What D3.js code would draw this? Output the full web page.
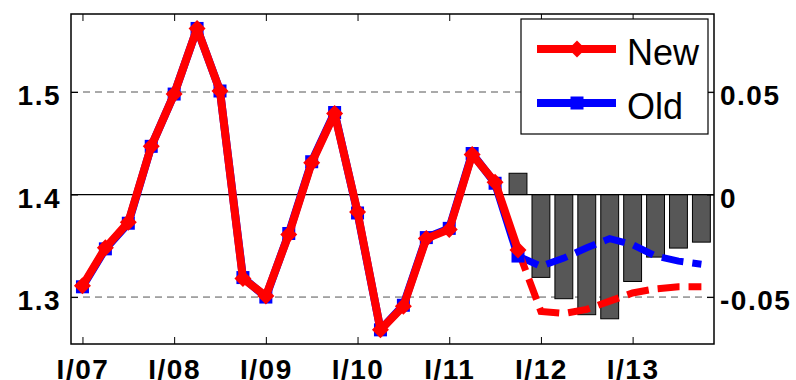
<!DOCTYPE html>
<html>
<head>
<meta charset="utf-8">
<script src="https://cdn.jsdelivr.net/npm/d3@7"></script>
<style>
    body { margin: 0; background: #fff; }
    svg { display: block; font-family: "Liberation Sans", Arial, Helvetica, sans-serif; }
    .tick-label text { font-size: 28px; font-weight: bold; letter-spacing: 1.5px; fill: #000; }
</style>
</head>
<body>
<svg id="chart" width="796" height="380"></svg>
<script>
// Quarter index 0 = I/07 ... 27 = IV/13
var yearLabels = ['I/07', 'I/08', 'I/09', 'I/10', 'I/11', 'I/12', 'I/13'];
var yearTicks = [0, 4, 8, 12, 16, 20, 24];

// History (quarters 0..19), left axis
var newHist = [1.311, 1.348, 1.373, 1.447, 1.498, 1.562, 1.501, 1.318, 1.301, 1.361,
               1.431, 1.479, 1.383, 1.268, 1.291, 1.357, 1.366, 1.439, 1.412, 1.346];
var oldHist = [1.310, 1.347, 1.372, 1.447, 1.498, 1.562, 1.501, 1.319, 1.300, 1.362,
               1.432, 1.480, 1.382, 1.268, 1.292, 1.358, 1.367, 1.440, 1.411, 1.340];

// Forecast (quarters 19..27), left axis
var newFcst = [1.346, 1.286, 1.284, 1.288, 1.296, 1.304, 1.308, 1.310, 1.310];
var oldFcst = [1.340, 1.330, 1.338, 1.348, 1.357, 1.351, 1.340, 1.335, 1.332];

// Difference bars (quarters 19..27), right axis
var diffBars = [0.0104, -0.0404, -0.0508, -0.0586, -0.0606, -0.0424, -0.0305, -0.0261, -0.0232];

var leftTicks = [1.3, 1.4, 1.5];
var rightTicks = [-0.05, 0, 0.05];

var svg = d3.select('#chart');

var plot = { left: 71, right: 714, top: 14, bottom: 344 };

var x = d3.scaleLinear().domain([-0.5, 27.55]).range([plot.left, plot.right]);
var yL = d3.scaleLinear().domain([1.2542, 1.5761]).range([plot.bottom, plot.top]);
var yR = d3.scaleLinear().domain([-0.0729, 0.0881]).range([plot.bottom, plot.top]);

var histIdx = d3.range(0, 20);
var fcstIdx = d3.range(19, 28);

// Grid lines (dashed) at 1.3 and 1.5
svg.append('g')
    .selectAll('line')
    .data([1.3, 1.5])
    .enter()
    .append('line')
    .attr('x1', plot.left).attr('x2', plot.right)
    .attr('y1', function (d) { return yL(d); })
    .attr('y2', function (d) { return yL(d); })
    .attr('stroke', '#555')
    .attr('stroke-width', 1)
    .attr('stroke-dasharray', '7,5');

// Bars on the right axis
var bw = (x(1) - x(0)) * 0.78;
svg.append('g')
    .selectAll('rect')
    .data(diffBars)
    .enter()
    .append('rect')
    .attr('x', function (d, i) { return x(fcstIdx[i]) - bw / 2; })
    .attr('y', function (d) { return yR(Math.max(d, 0)); })
    .attr('width', bw)
    .attr('height', function (d) { return Math.abs(yR(d) - yR(0)); })
    .attr('fill', '#575757')
    .attr('stroke', '#000')
    .attr('stroke-width', 1);

// Zero line
svg.append('line')
    .attr('x1', plot.left).attr('x2', plot.right)
    .attr('y1', yR(0)).attr('y2', yR(0))
    .attr('stroke', '#000')
    .attr('stroke-width', 1.3);

var line = d3.line()
    .x(function (d) { return x(d[0]); })
    .y(function (d) { return yL(d[1]); });

function pairs(idx, vals) {
    return idx.map(function (q, i) { return [q, vals[i]]; });
}

// Forecast dashed lines
svg.append('path')
    .datum(pairs(fcstIdx, oldFcst))
    .attr('d', line)
    .attr('fill', 'none')
    .attr('stroke', '#0000ff')
    .attr('stroke-width', 7)
    .attr('stroke-dasharray', '22,9');

svg.append('path')
    .datum(pairs(fcstIdx, newFcst))
    .attr('d', line)
    .attr('fill', 'none')
    .attr('stroke', '#ff0000')
    .attr('stroke-width', 7)
    .attr('stroke-dasharray', '22,9');

// Old history line with squares
svg.append('path')
    .datum(pairs(histIdx, oldHist))
    .attr('d', line)
    .attr('fill', 'none')
    .attr('stroke', '#0000ff')
    .attr('stroke-width', 8)
    .attr('stroke-linejoin', 'round');

var sq = 13;
svg.append('g')
    .selectAll('rect')
    .data(pairs(histIdx, oldHist))
    .enter()
    .append('rect')
    .attr('x', function (d) { return x(d[0]) - sq / 2; })
    .attr('y', function (d) { return yL(d[1]) - sq / 2; })
    .attr('width', sq).attr('height', sq)
    .attr('fill', '#0000ff');

// New history line with diamonds
svg.append('path')
    .datum(pairs(histIdx, newHist))
    .attr('d', line)
    .attr('fill', 'none')
    .attr('stroke', '#ff0000')
    .attr('stroke-width', 8)
    .attr('stroke-linejoin', 'round');

function diamond(cx, cy, r) {
    return 'M' + cx + ',' + (cy - r) + 'L' + (cx + r) + ',' + cy +
        'L' + cx + ',' + (cy + r) + 'L' + (cx - r) + ',' + cy + 'Z';
}

svg.append('g')
    .selectAll('path')
    .data(pairs(histIdx, newHist))
    .enter()
    .append('path')
    .attr('d', function (d) { return diamond(x(d[0]), yL(d[1]), 8.5); })
    .attr('fill', '#ff0000');

// Axes (ticks inside)
var xb = svg.append('g')
    .attr('class', 'tick-label')
    .attr('transform', 'translate(0,' + plot.bottom + ')')
    .call(d3.axisBottom(x)
        .tickValues(yearTicks)
        .tickFormat(function (d) { return yearLabels[yearTicks.indexOf(d)]; })
        .tickSize(-7)
        .tickPadding(15));

svg.append('g')
    .attr('transform', 'translate(0,' + plot.top + ')')
    .call(d3.axisTop(x).tickValues(yearTicks).tickFormat('').tickSize(-7));

var yl = svg.append('g')
    .attr('class', 'tick-label')
    .attr('transform', 'translate(' + plot.left + ',0)')
    .call(d3.axisLeft(yL)
        .tickValues(leftTicks)
        .tickFormat(d3.format('.1f'))
        .tickSize(-7)
        .tickPadding(10));

var yr = svg.append('g')
    .attr('class', 'tick-label')
    .attr('transform', 'translate(' + plot.right + ',0)')
    .call(d3.axisRight(yR)
        .tickValues(rightTicks)
        .tickFormat(function (d) { return d === 0 ? '0' : (d < 0 ? '-' : '') + Math.abs(d).toFixed(2); })
        .tickSize(-7)
        .tickPadding(6));

[xb, yl, yr].forEach(function (g) {
    g.select('.domain').remove();
    g.selectAll('.tick line').attr('stroke', '#000').attr('stroke-width', 1);
});
yl.selectAll('.tick text').attr('dy', '0.45em');
yr.selectAll('.tick text').attr('dy', '0.45em');
svg.selectAll('.domain').remove();

// Frame
svg.append('rect')
    .attr('x', plot.left).attr('y', plot.top)
    .attr('width', plot.right - plot.left)
    .attr('height', plot.bottom - plot.top)
    .attr('fill', 'none')
    .attr('stroke', '#000')
    .attr('stroke-width', 1.5);

// Legend
var legend = svg.append('g').attr('transform', 'translate(521,19)');
legend.append('rect')
    .attr('width', 187).attr('height', 115)
    .attr('fill', '#fff')
    .attr('stroke', '#000')
    .attr('stroke-width', 1.2);

var legendItems = [
    { name: 'New', color: '#ff0000', y: 30 },
    { name: 'Old', color: '#0000ff', y: 84 }
];

legendItems.forEach(function (item) {
    legend.append('line')
        .attr('x1', 16).attr('x2', 95)
        .attr('y1', item.y).attr('y2', item.y)
        .attr('stroke', item.color)
        .attr('stroke-width', 8);
    if (item.name === 'New') {
        legend.append('path')
            .attr('d', diamond(56, item.y, 8.5))
            .attr('fill', item.color);
    } else {
        legend.append('rect')
            .attr('x', 56 - sq / 2).attr('y', item.y - sq / 2)
            .attr('width', sq).attr('height', sq)
            .attr('fill', item.color);
    }
    legend.append('text')
        .attr('x', 106)
        .attr('y', item.y + 16)
        .attr('font-size', 36)
        .attr('fill', '#000')
        .text(item.name);
});
</script>
</body>
</html>
